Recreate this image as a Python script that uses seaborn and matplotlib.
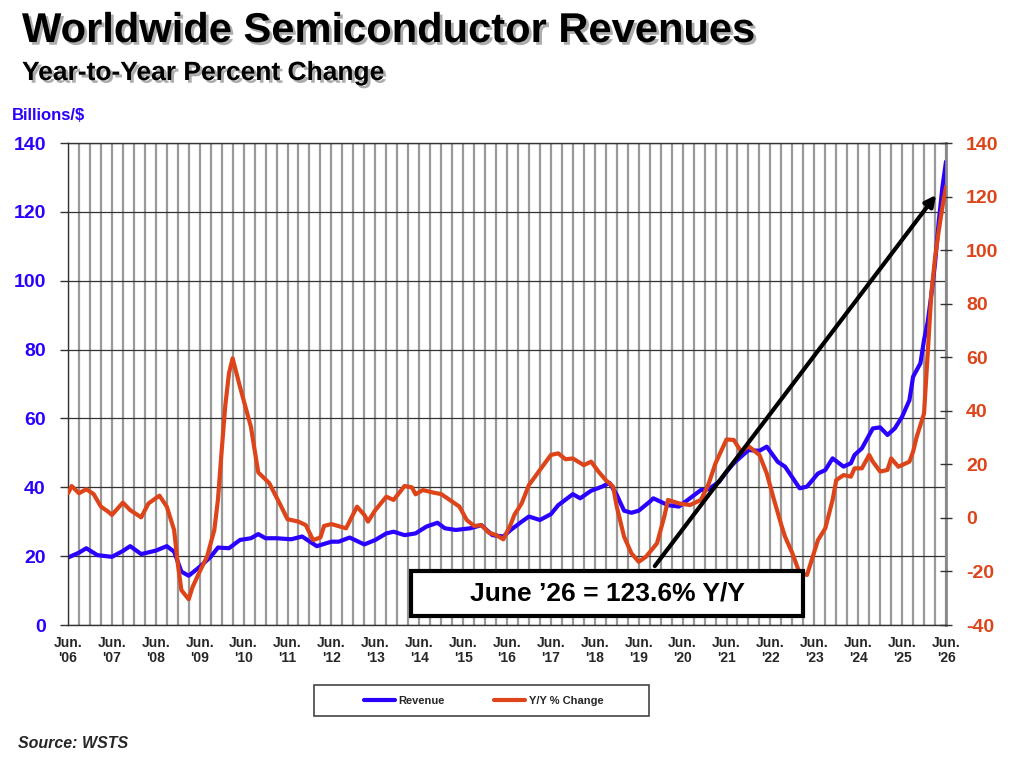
import matplotlib
matplotlib.use("Agg")
import matplotlib.pyplot as plt
import matplotlib.patheffects as pe
from matplotlib.lines import Line2D
from matplotlib.patches import Rectangle
import pandas as pd
import seaborn as sns

# ---------------- data (months since Jun 2006) ----------------
rev_month = [0, 3, 5, 8, 12, 15, 17, 20, 24, 27, 29, 31, 33, 36, 39, 41, 44, 47, 50, 52,
             54, 57, 61, 64, 68, 72, 74, 77, 81, 84, 87, 89, 92, 95, 98, 101, 103, 106, 110, 113,
             116, 119, 121, 124, 126, 129, 132, 134, 138, 140, 143, 146, 148, 150, 152, 154, 156, 159, 160, 164,
             167, 170, 173, 175, 178, 180, 182, 186, 189, 191, 194, 196, 200, 202, 205, 207, 209, 212, 214, 215,
             217, 220, 222, 224, 226, 228, 230, 231, 233, 234, 235, 236, 237, 238, 239, 240]
rev_value = [19.6, 21.0, 22.3, 20.3, 19.8, 21.5, 22.9, 20.6, 21.6, 22.9, 21.3, 15.5, 14.3, 16.9, 19.8, 22.5, 22.3, 24.7, 25.2, 26.4,
             25.2, 25.2, 24.9, 25.7, 22.9, 24.2, 24.2, 25.4, 23.4, 24.7, 26.6, 27.1, 26.1, 26.6, 28.6, 29.7, 28.1, 27.6, 28.1, 29.0,
             26.1, 25.7, 27.6, 30.0, 31.5, 30.5, 32.2, 34.8, 38.0, 36.8, 39.0, 40.2, 41.3, 37.8, 33.2, 32.6, 33.2, 35.8, 36.8, 34.8,
             34.4, 36.8, 39.2, 39.4, 41.6, 44.5, 47.0, 50.8, 50.6, 51.8, 47.4, 46.0, 39.7, 40.2, 44.0, 45.0, 48.4, 46.0, 47.0, 49.4,
             51.3, 57.1, 57.4, 55.2, 57.1, 60.5, 65.3, 72.1, 76.0, 82.8, 88.0, 96.0, 105.0, 117.0, 127.0, 134.6]

yoy_month = [0, 1, 3, 5, 7, 9, 11, 12, 15, 17, 20, 22, 25, 27, 29, 30, 31, 33, 34, 36,
             38, 40, 41, 42, 43, 44, 45, 47, 50, 52, 55, 58, 60, 63, 65, 67, 69, 70, 72, 76,
             79, 81, 82, 84, 87, 89, 92, 94, 95, 97, 100, 102, 105, 107, 109, 111, 113, 115, 117, 119,
             121, 122, 124, 126, 129, 132, 134, 136, 138, 141, 143, 145, 147, 149, 150, 152, 154, 156, 158, 161,
             163, 164, 167, 170, 173, 175, 177, 180, 182, 184, 186, 189, 191, 193, 195, 196, 198, 200, 202, 203,
             205, 207, 209, 210, 212, 214, 215, 217, 219, 220, 222, 224, 225, 227, 230, 231, 232, 234, 235, 236,
             237, 238, 239, 240]
yoy_value = [9.2, 11.9, 9.2, 10.7, 8.9, 4.2, 2.3, 1.1, 5.7, 2.9, 0.2, 5.4, 8.3, 4.2, -4.5, -17.0, -27.0, -30.4, -26.0, -20.0,
             -14.5, -4.5, 7.0, 25.0, 42.0, 54.0, 59.6, 49.0, 34.0, 17.0, 13.0, 5.0, -0.5, -1.4, -2.7, -8.3, -7.3, -3.0, -2.3, -3.9,
             4.2, 1.1, -1.4, 2.9, 7.9, 6.7, 11.9, 11.4, 8.8, 10.4, 9.4, 8.9, 6.1, 4.2, -0.8, -3.0, -2.7, -5.5, -6.4, -8.0,
             -2.5, 1.1, 5.4, 12.3, 17.9, 23.5, 24.1, 21.9, 22.2, 19.7, 21.0, 17.3, 14.1, 11.7, 4.2, -7.0, -13.2, -16.4, -14.5, -9.5,
             0.5, 6.7, 5.4, 4.8, 6.7, 12.3, 20.4, 29.3, 29.1, 24.7, 26.8, 23.5, 16.6, 6.7, -2.7, -7.0, -13.2, -20.7, -21.3, -17.0,
             -8.3, -3.9, 6.7, 14.1, 16.0, 15.4, 18.5, 18.5, 23.5, 21.0, 17.3, 17.9, 22.2, 19.1, 21.0, 24.7, 30.3, 39.0, 61.4, 84.0,
             97.0, 107.0, 116.0, 123.6]

tick_months = [0, 12, 24, 36, 48, 60, 72, 84, 96, 108, 120, 132, 144, 156, 168, 180, 192, 204, 216, 228, 240]
tick_labels = ["Jun.\n'06", "Jun.\n'07", "Jun.\n'08", "Jun.\n'09", "Jun.\n'10", "Jun.\n'11", "Jun.\n'12",
               "Jun.\n'13", "Jun.\n'14", "Jun.\n'15", "Jun.\n'16", "Jun.\n'17", "Jun.\n'18", "Jun.\n'19",
               "Jun.\n'20", "Jun.\n'21", "Jun.\n'22", "Jun.\n'23", "Jun.\n'24", "Jun.\n'25", "Jun.\n'26"]
left_ticks = [0, 20, 40, 60, 80, 100, 120, 140]
right_ticks = [-40, -20, 0, 20, 40, 60, 80, 100, 120, 140]

# ---------------- style ----------------
sns.set_style("white")
plt.rcParams["font.family"] = ["Liberation Sans", "DejaVu Sans"]

BLUE = "#2A00FF"
ORANGE = "#DD4419"
W, H = 1024, 761

fig = plt.figure(figsize=(10.24, 7.61), dpi=100)
ax = fig.add_axes([68 / W, 1 - 625 / H, (946 - 68) / W, (625 - 143) / H])
ax2 = ax.twinx()

df_rev = pd.DataFrame({"month": rev_month, "value": rev_value})
df_yoy = pd.DataFrame({"month": yoy_month, "value": yoy_value})

sns.lineplot(data=df_rev, x="month", y="value", ax=ax, color=BLUE, linewidth=3.0, legend=False)
sns.lineplot(data=df_yoy, x="month", y="value", ax=ax2, color=ORANGE, linewidth=3.0, legend=False)

ax.set_xlim(0, 240)
ax.set_ylim(0, 140)
ax2.set_ylim(-40, 140)
for a in (ax, ax2):
    a.set_xlabel("")
    a.set_ylabel("")

ax.set_xticks(tick_months)
ax.set_xticklabels(tick_labels, fontsize=10, fontweight="bold", linespacing=1.05)
ax.set_xticks(list(range(0, 241, 3)), minor=True)
ax.set_yticks(left_ticks)
ax.set_yticklabels([str(v) for v in left_ticks], fontsize=14, fontweight="bold", color=BLUE)
ax2.set_yticks(right_ticks)
ax2.set_yticklabels([str(v) for v in right_ticks], fontsize=14, fontweight="bold", color=ORANGE)

ax.set_axisbelow(True)
ax.grid(False)
ax.grid(True, axis="x", which="both", color="#999999", linewidth=1.6)
ax.grid(True, axis="y", which="major", color="#333333", linewidth=0.9)
ax2.grid(False)

ax.tick_params(axis="x", which="both", length=0, pad=8)
ax.tick_params(axis="y", direction="out", length=6, width=1, color="#333333", pad=10, left=True)
ax2.tick_params(axis="y", direction="inout", length=9, width=1, color="#333333", pad=10, right=True)

for s in ax.spines.values():
    s.set_color("#333333")
    s.set_linewidth(1.0)
ax.spines["right"].set_color("#888888")
ax.spines["right"].set_linewidth(2.0)
for s in ax2.spines.values():
    s.set_visible(False)

# annotation box (axes coordinates derived from the layout)
bx0, bx1 = (411 - 68) / 878, (803 - 68) / 878
by0, by1 = (625 - 616) / 482, (625 - 571) / 482
ax2.add_patch(Rectangle((bx0, by0), bx1 - bx0, by1 - by0, transform=ax2.transAxes,
                        facecolor="white", edgecolor="black", linewidth=3, zorder=10, clip_on=False))
ax2.text((bx0 + bx1) / 2, (by0 + by1) / 2, "June \u201926 = 123.6% Y/Y", transform=ax2.transAxes,
         ha="center", va="center", fontsize=19, fontweight="bold", color="black", zorder=11)

ax2.annotate("", xy=(237.3, 120.6), xytext=(160.4, -18.0),
             arrowprops=dict(arrowstyle="-|>", color="black", lw=3, mutation_scale=16,
                             shrinkA=0, shrinkB=0), zorder=12)

# titles
shadow = [pe.withSimplePatchShadow(offset=(2, -2), shadow_rgbFace="#777777", alpha=0.6)]
fig.text(22 / W, 1 - 42 / H, "Worldwide Semiconductor Revenues", fontsize=30, fontweight="bold",
         va="baseline", ha="left", color="black", path_effects=shadow)
fig.text(22 / W, 1 - 80 / H, "Year-to-Year Percent Change", fontsize=19, fontweight="bold",
         va="baseline", ha="left", color="black", path_effects=shadow)
fig.text(12 / W, 1 - 120 / H, "Billions/$", fontsize=12, fontweight="bold", color=BLUE,
         va="baseline", ha="left")
fig.text(18 / W, 1 - 748 / H, "Source: WSTS", fontsize=11.5, fontweight="bold", fontstyle="italic",
         va="baseline", ha="left")

# legend box
fig.add_artist(Rectangle((314 / W, 1 - 716 / H), 335 / W, 31 / H, transform=fig.transFigure,
                         facecolor="white", edgecolor="#444444", linewidth=1.2))
handles = [Line2D([], [], color=BLUE, lw=3), Line2D([], [], color=ORANGE, lw=3)]
fig.legend(handles, ["Revenue", "Y/Y % Change"], loc="center", bbox_to_anchor=(483.5 / W, 1 - 700.7 / H),
           ncol=2, frameon=False, prop={"weight": "bold", "size": 8}, handlelength=2.8,
           handletextpad=0.3, columnspacing=4.5)

fig.savefig("out.png", dpi=100)
